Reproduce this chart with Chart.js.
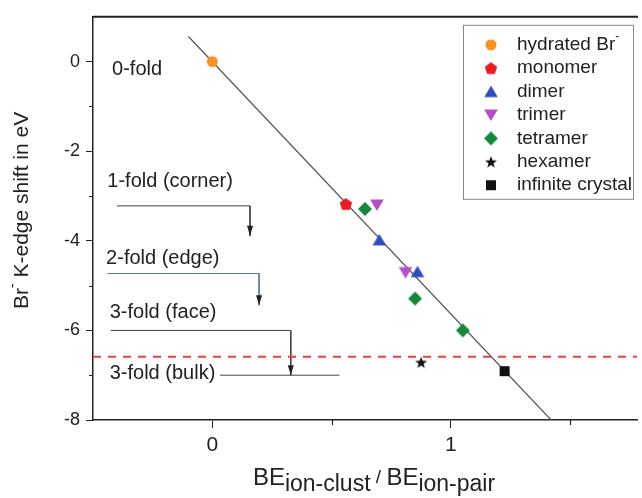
<!DOCTYPE html>
<html>
<head>
<meta charset="utf-8">
<script src="https://cdn.jsdelivr.net/npm/chart.js@4.4.1/dist/chart.umd.min.js"></script>
<style>
  html, body { margin: 0; padding: 0; background: #fff; }
  canvas { display: block; }
</style>
</head>
<body>
<canvas id="chart" width="642" height="498"></canvas>
<script>
// Data
const seriesNames = ['hydrated Br⁻', 'monomer', 'dimer', 'trimer', 'tetramer', 'hexamer', 'infinite crystal'];
const hydratedX = [0];        const hydratedY = [0];
const monomerX = [0.56];      const monomerY = [-3.18];
const dimerX = [0.70, 0.86];  const dimerY = [-3.98, -4.69];
const trimerX = [0.69, 0.81]; const trimerY = [-3.2, -4.71];
const tetramerX = [0.64, 0.85, 1.05]; const tetramerY = [-3.29, -5.29, -6.0];
const hexamerX = [0.875];     const hexamerY = [-6.71];
const crystalX = [1.225];     const crystalY = [-6.91];

// linear fit and bulk level
const fitX = [-0.10, 1.42];   const fitY = [0.56, -8];
const bulkLevel = -6.59;

// coordination brackets (data units)
const cornerX = [-0.40, 0.158, 0.158]; const cornerY = [-3.22, -3.22, -3.89];
const edgeX = [-0.44, 0.196, 0.196];   const edgeY = [-4.73, -4.73, -5.44];
const faceX = [-0.425, 0.329, 0.329];  const faceY = [-6.0, -6.0, -7.0];
const bulkX = [0.033, 0.533];          const bulkY = [-7.0, -7.0];

const foldLabels = ['0-fold', '1-fold (corner)', '2-fold (edge)', '3-fold (face)', '3-fold (bulk)'];
const foldLabelX = [-0.42, -0.44, -0.445, -0.43, -0.43];
const foldLabelY = [-0.18, -2.67, -4.4, -5.6, -6.96];

const xTicks = [-0.5, 0, 0.5, 1, 1.5];
const xLabeled = [0, 1];

const pts = (xs, ys) => xs.map((x, i) => ({ x: x, y: ys[i] }));

// marker images
function makeMarker(kind, color) {
    const c = document.createElement('canvas');
    c.width = 16; c.height = 16;
    const g = c.getContext('2d');
    g.fillStyle = color;
    g.translate(8, 8);
    g.beginPath();
    if (kind === 'circle') {
        g.arc(0, 0, 5.5, 0, Math.PI * 2);
    } else if (kind === 'pentagon') {
        for (let i = 0; i < 5; i++) {
            const a = -Math.PI / 2 + i * 2 * Math.PI / 5;
            g.lineTo(6.5 * Math.cos(a), 6.5 * Math.sin(a) + 0.5);
        }
    } else if (kind === 'up') {
        g.moveTo(0, -6); g.lineTo(6.8, 5.5); g.lineTo(-6.8, 5.5);
    } else if (kind === 'down') {
        g.moveTo(0, 6); g.lineTo(6.8, -5.5); g.lineTo(-6.8, -5.5);
    } else if (kind === 'diamond') {
        g.moveTo(0, -7); g.lineTo(7, 0); g.lineTo(0, 7); g.lineTo(-7, 0);
    } else if (kind === 'star') {
        for (let i = 0; i < 10; i++) {
            const a = -Math.PI / 2 + i * Math.PI / 5;
            const r = i % 2 ? 2.6 : 6.3;
            g.lineTo(r * Math.cos(a), r * Math.sin(a) + 0.6);
        }
    } else if (kind === 'square') {
        g.rect(-5, -5, 10, 10);
    }
    g.closePath();
    g.fill();
    return c;
}

const markers = [
    makeMarker('circle', '#f7921e'),
    makeMarker('pentagon', '#ec1c24'),
    makeMarker('up', '#2c4dbf'),
    makeMarker('down', '#b44fc8'),
    makeMarker('diamond', '#16883a'),
    makeMarker('star', '#111'),
    makeMarker('square', '#111')
];

const markerSets = [
    pts(hydratedX, hydratedY), pts(monomerX, monomerY), pts(dimerX, dimerY),
    pts(trimerX, trimerY), pts(tetramerX, tetramerY), pts(hexamerX, hexamerY),
    pts(crystalX, crystalY)
];

const datasets = markerSets.map((d, i) => ({
    label: seriesNames[i],
    data: d,
    pointStyle: markers[i],
    showLine: false,
    order: 0
}));

const lineSet = (data, color, width, dash) => ({
    label: '',
    data: data,
    showLine: true,
    pointRadius: 0,
    borderColor: color,
    borderWidth: width,
    borderDash: dash || [],
    order: 1
});

datasets.push(lineSet(pts(fitX, fitY), '#555', 1.2));
datasets.push(lineSet([{ x: -0.5, y: bulkLevel }, { x: 1.78, y: bulkLevel }], '#e8433d', 2, [8, 7]));
datasets.push(lineSet(pts(cornerX, cornerY), '#444', 1));
datasets.push(lineSet(pts(edgeX, edgeY), '#5d7a92', 1));
datasets.push(lineSet(pts(faceX, faceY), '#444', 1));
datasets.push(lineSet(pts(bulkX, bulkY), '#444', 1));

function drawSuperText(ctx, parts, x, y, align) {
    // parts: [text, font, dy]
    let total = 0;
    parts.forEach(p => { ctx.font = p[1]; total += ctx.measureText(p[0]).width; });
    let cx = align === 'center' ? x - total / 2 : x;
    parts.forEach(p => {
        ctx.font = p[1];
        ctx.fillText(p[0], cx, y + p[2]);
        cx += ctx.measureText(p[0]).width;
    });
}

const FONT = '"Liberation Sans", Arial, sans-serif';

const decorations = {
    id: 'decorations',
    afterDatasetsDraw(chart) {
        const { ctx, chartArea, scales } = chart;
        const xs = scales.x, ys = scales.y;
        ctx.save();

        // top frame line
        ctx.strokeStyle = '#222';
        ctx.lineWidth = 2;
        ctx.beginPath();
        ctx.moveTo(chartArea.left, chartArea.top);
        ctx.lineTo(chartArea.right + 1, chartArea.top);
        ctx.stroke();

        // minor ticks
        ctx.lineWidth = 1.2;
        ctx.beginPath();
        [-7, -5, -3, -1].forEach(v => {
            const py = Math.round(ys.getPixelForValue(v)) + 0.5;
            ctx.moveTo(chartArea.left, py); ctx.lineTo(chartArea.left - 4, py);
        });
        [0.5, 1.5].forEach(v => {
            const px = Math.round(xs.getPixelForValue(v)) + 0.5;
            ctx.moveTo(px, chartArea.bottom); ctx.lineTo(px, chartArea.bottom + 5);
        });
        ctx.stroke();

        // arrow heads
        ctx.fillStyle = '#222';
        [[cornerX, cornerY], [edgeX, edgeY], [faceX, faceY]].forEach(([bx, by]) => {
            const px = xs.getPixelForValue(bx[2]);
            const py = ys.getPixelForValue(by[2]);
            ctx.beginPath();
            ctx.moveTo(px, py);
            ctx.lineTo(px - 3, py - 10);
            ctx.lineTo(px + 3, py - 10);
            ctx.closePath();
            ctx.fill();
        });

        // fold labels
        ctx.fillStyle = '#222';
        ctx.font = '20px ' + FONT;
        ctx.textBaseline = 'middle';
        ctx.textAlign = 'left';
        foldLabels.forEach((t, i) => {
            ctx.fillText(t, xs.getPixelForValue(foldLabelX[i]), ys.getPixelForValue(foldLabelY[i]));
        });

        // legend
        const lx = chartArea.right - 174, ly = chartArea.top + 8;
        ctx.strokeStyle = '#888';
        ctx.lineWidth = 1;
        ctx.strokeRect(lx + 0.5, ly + 0.5, 170, 174);
        const font = '19px ' + FONT;
        const small = '12px ' + FONT;
        seriesNames.forEach((name, i) => {
            const ry = ly + 20 + i * 23.4;
            ctx.drawImage(markers[i], lx + 20, ry - 8);
            if (name.indexOf('⁻') >= 0) {
                drawSuperText(ctx, [[name.replace('⁻', ''), font, 0], ['-', small, -8]], lx + 54, ry, 'left');
            } else {
                ctx.font = font;
                ctx.fillText(name, lx + 54, ry);
            }
        });

        // y axis title
        ctx.save();
        ctx.translate(22, (chartArea.top + chartArea.bottom) / 2 - 8);
        ctx.rotate(-Math.PI / 2);
        ctx.textBaseline = 'middle';
        const yf = '21px ' + FONT;
        drawSuperText(ctx, [['Br', yf, 0], ['-', '14px ' + FONT, -9],
            [' K-edge shift in eV', yf, 0]], 0, 0, 'center');
        ctx.restore();

        // x axis title
        ctx.textBaseline = 'alphabetic';
        const xf = '24px ' + FONT;
        const xsub = '23px ' + FONT;
        drawSuperText(ctx, [['BE', xf, 0], ['ion-clust', xsub, 6], [' / ', '19px ' + FONT, -2],
            ['BE', xf, 0], ['ion-pair', xsub, 6]], (chartArea.left + chartArea.right) / 2 + 9, 485, 'center');

        ctx.restore();
    }
};

new Chart(document.getElementById('chart'), {
    type: 'scatter',
    data: { datasets: datasets },
    options: {
        responsive: false,
        animation: false,
        devicePixelRatio: 1,
        layout: { padding: { top: 15, right: 1, left: 0, bottom: 0 } },
        plugins: {
            legend: { display: false },
            tooltip: { enabled: false }
        },
        scales: {
            x: {
                type: 'linear',
                min: -0.5,
                max: 1.78,
                afterFit: s => { s.height = 78; },
                afterBuildTicks: s => { s.ticks = xTicks.map(v => ({ value: v })); },
                border: { color: '#222', width: 1.5 },
                grid: {
                    drawOnChartArea: false,
                    tickLength: 8,
                    tickColor: c => xLabeled.includes(c.tick.value) ? '#222' : 'transparent'
                },
                ticks: {
                    autoSkip: false,
                    maxRotation: 0,
                    padding: 5,
                    color: '#222',
                    font: { family: FONT, size: 21 },
                    callback: v => xLabeled.includes(v) ? String(v) : ''
                }
            },
            y: {
                type: 'linear',
                min: -8,
                max: 1,
                afterFit: s => { s.width = 93; },
                border: { color: '#222', width: 1.5 },
                grid: {
                    drawOnChartArea: false,
                    tickLength: 7,
                    tickColor: c => (c.tick.value % 2 === 0 && c.tick.value < 1) ? '#222' : 'transparent'
                },
                ticks: {
                    stepSize: 1,
                    autoSkip: false,
                    padding: 6,
                    color: '#222',
                    font: { family: FONT, size: 18 },
                    callback: v => (v % 2 === 0 && v < 1) ? String(v) : ''
                }
            }
        }
    },
    plugins: [decorations]
});
</script>
</body>
</html>
